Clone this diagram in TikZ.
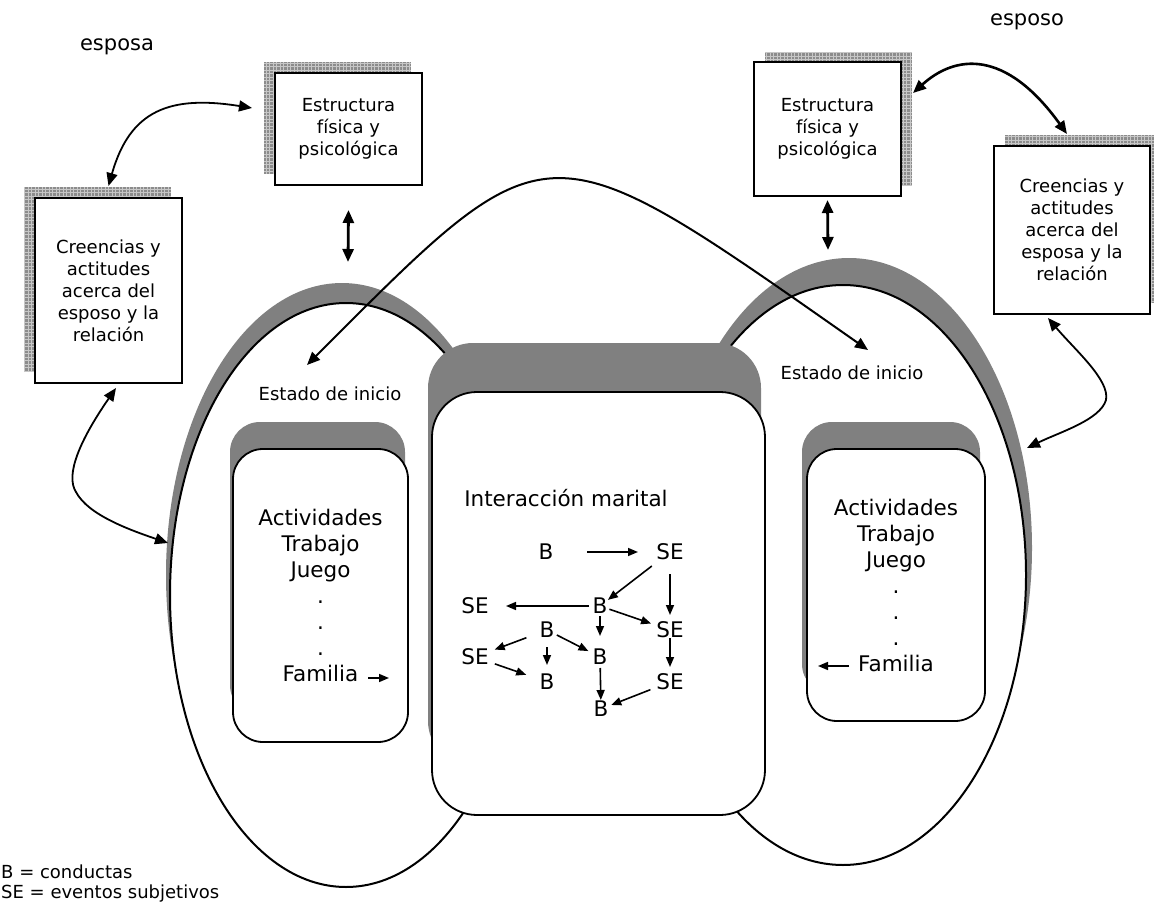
\documentclass[tikz,border=0pt]{standalone}
\usepackage{fontspec}
\setmainfont{DejaVu Sans}
\usetikzlibrary{arrows.meta}

\tikzset{
  both/.style={{Triangle[length=13pt,width=11pt]}-{Triangle[length=13pt,width=11pt]}},
  flow/.style={-{Triangle[length=10pt,width=8pt]},line width=1.6pt},
  hatch/.style={fill=black!45},
  hatchlines/.style={draw=black!22,line width=0.6pt,step=3.5pt},
  halo/.style={fill=black!50},
  card/.style={draw,fill=white,line width=2pt,align=center,
    font=\fontsize{18}{22}\selectfont},
  rbox/.style={draw,fill=white,line width=1.8pt,rounded corners=30pt,align=center,
    font=\fontsize{21.5}{26}\selectfont},
  word/.style={font=\fontsize{21.5}{26}\selectfont,inner sep=1pt},
  note/.style={font=\fontsize{18}{20}\selectfont,inner sep=0pt}
}

\begin{document}
\begin{tikzpicture}[x=1pt,y=-1pt]
\useasboundingbox (0,0) rectangle (1154,915);

% ovalos
\fill[halo] (342,575) ellipse [x radius=176pt, y radius=292pt];
\draw[line width=2pt,fill=white] (346,595) ellipse [x radius=176pt, y radius=292pt];
\fill[halo] (849,548) ellipse [x radius=183pt, y radius=290pt];
\draw[line width=2pt,fill=white] (843,575) ellipse [x radius=183pt, y radius=290pt];

% interaccion marital
\fill[halo, rounded corners=45pt] (428,343) rectangle (761,766);
\node[rbox, rounded corners=45pt, minimum width=333pt, minimum height=423pt] (mar) at (598.5,603.5) {};

\fill[halo, rounded corners=30pt] (230,422) rectangle (405,715);
\node[rbox, minimum width=175pt, minimum height=293pt] (actA) at (320.5,595.5)
  {Actividades\\Trabajo\\Juego\\.\\.\\.\\Familia};
\fill[halo, rounded corners=30pt] (802,422) rectangle (980,694);
\node[rbox, minimum width=178pt, minimum height=272pt] (actB) at (896,585)
  {Actividades\\Trabajo\\Juego\\.\\.\\.\\Familia};

\node[note] (iniA) at (330,394) {Estado de inicio};
\node[note] (iniB) at (852,373) {Estado de inicio};

\node[word] (titulo) at (566,498) {Interacción marital};

\node[word] (b1) at (546,552) {B};
\node[word] (se1) at (670,552) {SE};
\node[word] (se2) at (475,606) {SE};
\node[word] (b2) at (600,606) {B};
\node[word] (se3) at (670,630) {SE};
\node[word] (b3) at (547,630) {B};
\node[word] (se4) at (475,657) {SE};
\node[word] (b4) at (600,657) {B};
\node[word] (b5) at (547,682) {B};
\node[word] (se5) at (670,682) {SE};
\node[word] (b6) at (601,709) {B};

\draw[flow, shorten <=41pt, shorten >=32pt] (b1.center) -- (se1.center);
\draw[flow, shorten <=23pt, shorten >=10pt] (se1.center) -- (b2.center);
\draw[flow, shorten <=22pt, shorten >=15pt] (se1.center) -- (se3.center);
\draw[flow, shorten <=11pt, shorten >=31pt] (b2.center) -- (se2.center);
\draw[flow, shorten <=10pt, shorten >=20pt] (b2.center) -- (se3.center);
\draw[flow, shorten <=10pt, shorten >=21pt] (b2.center) -- (b4.center);
\draw[flow, shorten <=22pt, shorten >=21pt] (b3.center) -- (se4.center);
\draw[flow, shorten <=17pt, shorten >=17pt] (b3.center) -- (b5.center);
\draw[flow, shorten <=11pt, shorten >=13pt] (b3.center) -- (b4.center);
\draw[flow, shorten <=8pt, shorten >=15pt] (se3.center) -- (se5.center);
\draw[flow, shorten <=21pt, shorten >=22pt] (se4.center) -- (b5.center);
\draw[flow, shorten <=11pt, shorten >=9pt] (b4.center) -- (b6.center);
\draw[flow, shorten <=21pt, shorten >=11pt] (se5.center) -- (b6.center);

\coordinate (famA) at (368,678);
\coordinate (famA2) at (389,678);
\coordinate (famB) at (849,666);
\coordinate (famB2) at (818,666);
\draw[flow] (famA) -- (famA2);
\draw[flow] (famB) -- (famB2);

% esposa / esposo
\node[word, font=\fontsize{21}{26}\selectfont] (esposa) at (117,47) {esposa};
\node[word, font=\fontsize{21}{26}\selectfont] (esposo) at (1027,22) {esposo};

% sombras de trama
\fill[hatch] (264,174) rectangle (411,62);
\draw[hatchlines] (264,174) grid (411,62);
\fill[hatch] (24,372) rectangle (171,187);
\draw[hatchlines] (24,372) grid (171,187);
\fill[hatch] (765,186) rectangle (912,52);
\draw[hatchlines] (765,186) grid (912,52);
\fill[hatch] (1005,303) rectangle (1161,135);
\draw[hatchlines] (1005,303) grid (1161,135);

\node[card, minimum width=147pt, minimum height=112pt] (estA) at (348.5,129)
  {Estructura\\física y\\psicológica};
\node[card, minimum width=147pt, minimum height=185pt] (creA) at (108.5,290.5)
  {Creencias y\\actitudes\\acerca del\\esposo y la\\relación};
\node[card, minimum width=147pt, minimum height=134pt] (estB) at (827.5,129)
  {Estructura\\física y\\psicológica};
\node[card, minimum width=156pt, minimum height=168pt] (creB) at (1072,230)
  {Creencias y\\actitudes\\acerca del\\esposa y la\\relación};

\node[note, anchor=west, align=left] (leyenda) at (1,884) {B = conductas\\SE = eventos subjetivos};

% flechas
\coordinate (topA) at (348,262);
\coordinate (topB) at (828,250);
\coordinate (sideA) at (168,543);
\coordinate (sideB) at (1027,448);
\coordinate (goalA) at (307,365);
\coordinate (goalB) at (868,350);

\draw[both, line width=1.8pt] ([yshift=11pt]creA.north) .. controls (130,110) and (170,95) .. ([shift={(-22,-21)}]estA.west);
\draw[both, line width=2.8pt] ([yshift=-24pt]estA.south) -- (topA);
\draw[both, line width=2.8pt] ([yshift=-3pt]estB.south) -- (topB);
\draw[both, line width=2.6pt] ([shift={(11,-36)}]estB.east) .. controls (955,55) and (1005,48) .. ([shift={(-5,-11)}]creB.north);
\draw[both, line width=1.8pt] ([shift={(7.5,4)}]creA.south) .. controls (80,440) and (65,475) .. (76,492) .. controls (88,515) and (130,530) .. (sideA);
\draw[both, line width=1.8pt] ([shift={(-24,3)}]creB.south) .. controls (1075,350) and (1110,380) .. (1106,400) .. controls (1100,420) and (1060,432) .. (sideB);
\draw[both, line width=2pt] (goalA) .. controls (551,121) and (541,121) .. (goalB);

\end{tikzpicture}
\end{document}
